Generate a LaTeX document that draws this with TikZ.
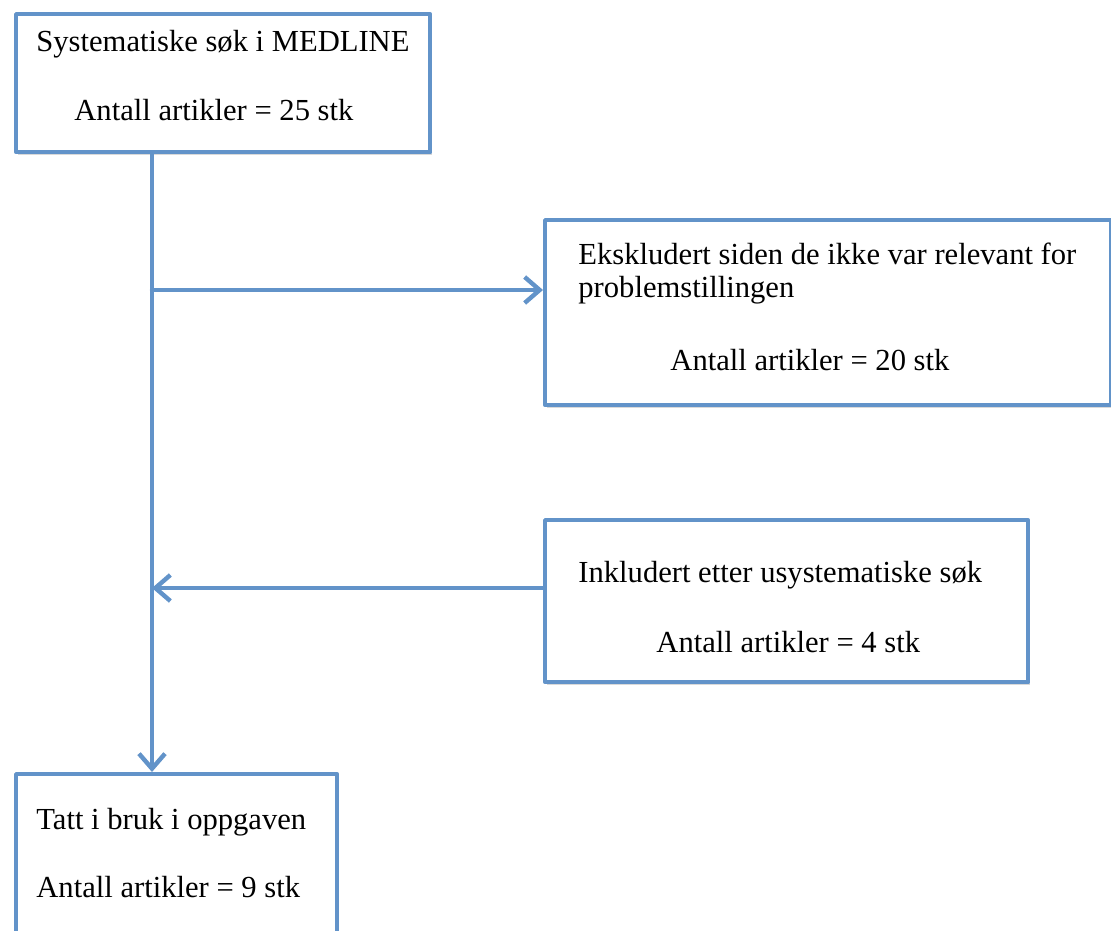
\documentclass[tikz,border=0pt]{standalone}
\usepackage{fontspec}
\setmainfont{Liberation Serif}
\usetikzlibrary{arrows.meta,shadows}
\definecolor{flowblue}{RGB}{98,147,201}

\begin{document}
\begin{tikzpicture}[x=0.5pt,y=-0.5pt,line cap=round,line join=round,
  font=\fontsize{15.3}{18}\selectfont,
  box/.style={draw=flowblue,line width=2.2pt,fill=white,rectangle,inner sep=0pt,anchor=north west,
    drop shadow={opacity=0.3,shadow xshift=0.8pt,shadow yshift=-1.4pt}},
  txt/.style={anchor=base west,inner sep=0pt},
  link/.style={draw=flowblue,line width=2.2pt,-{Straight Barb[length=7.5pt,width=13pt,line width=2.2pt]}}]
\useasboundingbox (0,0) rectangle (1111,930);
% boxes
\node[box,minimum width=207pt,minimum height=69pt] (medline) at (14,12) {};
\node[box,minimum width=283pt,minimum height=92.5pt] (ekskl) at (543,218) {};
\node[box,minimum width=241.5pt,minimum height=81pt] (inkl) at (543,518) {};
\node[box,minimum width=160.5pt,minimum height=84pt] (bruk) at (14,772) {};
% texts
\node[txt] (medline1) at (36,52) {Systematiske søk i MEDLINE};
\node[txt] (medline2) at (74,121) {Antall artikler = 25 stk};
\node[txt] (ekskl1) at (578,264) {Ekskludert siden de ikke var relevant for};
\node[txt] (ekskl2) at (578,298) {problemstillingen};
\node[txt] (ekskl3) at (670,370) {Antall artikler = 20 stk};
\node[txt] (inkl1) at (578,582) {Inkludert etter usystematiske søk};
\node[txt] (inkl2) at (656,652) {Antall artikler = 4 stk};
\node[txt] (bruk1) at (36,829) {Tatt i bruk i oppgaven};
\node[txt] (bruk2) at (36,897) {Antall artikler = 9 stk};
% connectors
\coordinate (ut) at (152,290);
\coordinate (inn) at (152,588);
\draw[link] (ut |- medline.south) -- (ut |- bruk.north);
\draw[link] (ut) -- (ut -| ekskl.west);
\draw[link] (inn -| inkl.west) -- (inn);
\end{tikzpicture}
\end{document}
